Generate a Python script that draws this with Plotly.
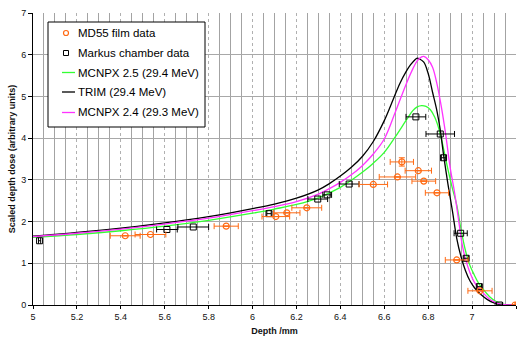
import plotly.graph_objects as go

# ---------------- data ----------------
x_trim = [5.0, 5.1, 5.2, 5.3, 5.4, 5.5, 5.6, 5.7, 5.8, 5.9, 6.0, 6.1, 6.2, 6.3, 6.35, 6.4, 6.45,
          6.5, 6.55, 6.6, 6.64, 6.67, 6.7, 6.72, 6.74, 6.75, 6.76, 6.78, 6.8, 6.82, 6.84, 6.855,
          6.87, 6.89, 6.91, 6.93, 6.95, 6.97, 6.99, 7.01, 7.04, 7.07, 7.1, 7.13, 7.2]
y_trim = [1.65, 1.69, 1.74, 1.79, 1.84, 1.90, 1.97, 2.04, 2.12, 2.21, 2.31, 2.42, 2.56, 2.76, 2.91,
          3.09, 3.3, 3.56, 3.92, 4.42, 4.92, 5.3, 5.6, 5.76, 5.88, 5.92, 5.9, 5.82, 5.55, 5.1, 4.65,
          4.2, 3.6, 2.9, 2.27, 1.6, 1.15, 0.82, 0.58, 0.42, 0.25, 0.13, 0.05, 0.01, 0.0]

x_m24 = [5.0, 5.2, 5.4, 5.6, 5.8, 6.0, 6.1, 6.2, 6.3, 6.35, 6.4, 6.45, 6.5, 6.55, 6.6, 6.65, 6.7,
         6.73, 6.75, 6.77, 6.78, 6.8, 6.82, 6.84, 6.86, 6.88, 6.9, 6.92, 6.94, 6.955, 6.97, 6.99,
         7.01, 7.05, 7.08, 7.1, 7.13, 7.2]
y_m24 = [1.64, 1.72, 1.82, 1.94, 2.08, 2.26, 2.36, 2.48, 2.66, 2.79, 2.94, 3.12, 3.34, 3.62, 3.98,
         4.62, 5.3, 5.66, 5.85, 5.95, 5.96, 5.88, 5.7, 5.3, 4.75, 4.08, 3.3, 2.7, 1.98, 1.45, 1.1,
         0.78, 0.55, 0.29, 0.14, 0.08, 0.02, 0.0]

x_m25 = [5.0, 5.2, 5.4, 5.6, 5.8, 6.0, 6.1, 6.2, 6.3, 6.4, 6.45, 6.5, 6.55, 6.6, 6.65, 6.7, 6.73,
         6.75, 6.77, 6.79, 6.81, 6.83, 6.85, 6.87, 6.89, 6.91, 6.93, 6.95, 6.97, 6.99, 7.01, 7.03,
         7.05, 7.08, 7.11, 7.14, 7.2]
y_m25 = [1.62, 1.69, 1.78, 1.89, 2.03, 2.2, 2.3, 2.41, 2.57, 2.82, 2.99, 3.18, 3.4, 3.66, 4.03, 4.43,
         4.66, 4.75, 4.78, 4.76, 4.68, 4.5, 4.2, 3.75, 3.25, 2.8, 2.4, 1.8, 1.3, 0.95, 0.72, 0.52,
         0.38, 0.2, 0.08, 0.02, 0.0]

x_markus = [5.03, 5.61, 5.73, 6.075, 6.297, 6.34, 6.44, 6.744, 6.855, 6.87, 6.948, 6.973, 7.033, 7.124]
y_markus = [1.54, 1.81, 1.87, 2.19, 2.54, 2.64, 2.90, 4.51, 4.10, 3.53, 1.72, 1.12, 0.44, 0.0]
ex_markus = [0.005, 0.047, 0.07, 0.01, 0.045, 0.02, 0.045, 0.045, 0.065, 0.01, 0.03, 0.01, 0.01, 0.015]

x_film = [5.42, 5.535, 5.88, 6.106, 6.156, 6.247, 6.55, 6.66, 6.68, 6.755, 6.78, 6.84, 6.93, 7.036, 7.196]
y_film = [1.66, 1.69, 1.89, 2.12, 2.21, 2.33, 2.89, 3.07, 3.43, 3.22, 2.97, 2.69, 1.08, 0.34, 0.0]
ex_film = [0.068, 0.07, 0.055, 0.063, 0.06, 0.068, 0.065, 0.083, 0.053, 0.06, 0.054, 0.053, 0.052, 0.055, 0.0]
ey_film = [0, 0, 0, 0, 0, 0, 0, 0, 0.1, 0, 0, 0, 0, 0, 0]

legend_labels = ["MD55 film data", "Markus chamber data", "MCNPX 2.5 (29.4 MeV)",
                 "TRIM (29.4 MeV)", "MCNPX 2.4 (29.3 MeV)"]

ORANGE = "#FF6A13"
GREEN = "#33FF33"
MAGENTA = "#FF33FF"
FONT = "Liberation Sans, Arial, sans-serif"

fig = go.Figure()
fig.add_trace(go.Scatter(x=x_m25, y=y_m25, mode="lines", line=dict(color=GREEN, width=1.3),
                         line_shape="spline", showlegend=False))
fig.add_trace(go.Scatter(x=x_trim, y=y_trim, mode="lines", line=dict(color="black", width=1.3),
                         line_shape="spline", showlegend=False))
fig.add_trace(go.Scatter(x=x_m24, y=y_m24, mode="lines", line=dict(color=MAGENTA, width=1.3),
                         line_shape="spline", showlegend=False))
fig.add_trace(go.Scatter(x=x_markus, y=y_markus, mode="markers",
                         marker=dict(symbol="square-open", size=6, color="black", line=dict(width=1)),
                         error_x=dict(type="data", array=ex_markus, color="black", thickness=1, width=3),
                         showlegend=False))
fig.add_trace(go.Scatter(x=x_film, y=y_film, mode="markers",
                         marker=dict(symbol="circle-open", size=6, color=ORANGE, line=dict(width=1.2)),
                         error_x=dict(type="data", array=ex_film, color=ORANGE, thickness=1, width=3),
                         error_y=dict(type="data", array=ey_film, color=ORANGE, thickness=1, width=3),
                         showlegend=False))

# ---------------- manual legend ----------------
L, R, T, B = 33, 6, 13, 37
W, H = 522 - L - R, 342 - T - B


def px(xp):
    return (xp - L) / W


def py(yp):
    return (342 - B - yp) / H


shapes = [dict(type="rect", xref="paper", yref="paper", x0=px(48), x1=px(205), y0=py(127), y1=py(22),
               line=dict(color="black", width=1), fillcolor="white", layer="above")]
annotations = []
ys = [33, 53, 72.5, 92, 112.5]
cols = [ORANGE, "black", GREEN, "black", MAGENTA]
for i, (lab, yy) in enumerate(zip(legend_labels, ys)):
    if i == 0:
        shapes.append(dict(type="circle", xref="paper", yref="paper", xsizemode="pixel", ysizemode="pixel",
                           xanchor=px(66), yanchor=py(yy), x0=-2.5, x1=2.5, y0=-2.5, y1=2.5,
                           line=dict(color=ORANGE, width=1.2), layer="above"))
    elif i == 1:
        shapes.append(dict(type="rect", xref="paper", yref="paper", xsizemode="pixel", ysizemode="pixel",
                           xanchor=px(66), yanchor=py(yy), x0=-2.5, x1=2.5, y0=-2.5, y1=2.5,
                           line=dict(color="black", width=1), layer="above"))
    else:
        shapes.append(dict(type="line", xref="paper", yref="paper", x0=px(62), x1=px(75), y0=py(yy), y1=py(yy),
                           line=dict(color=cols[i], width=1.3), layer="above"))
    annotations.append(dict(text=lab, xref="paper", yref="paper", x=px(76), y=py(yy), xanchor="left",
                            yanchor="middle", showarrow=False, font=dict(size=11.5, color="black", family=FONT)))

fig.update_layout(
    width=522, height=342,
    margin=dict(l=L, r=R, t=T, b=B),
    paper_bgcolor="white", plot_bgcolor="white",
    font=dict(family=FONT, size=9, color="#111"),
    shapes=shapes, annotations=annotations,
    showlegend=False,
)
fig.update_xaxes(range=[5, 7.2], tick0=5, dtick=0.2, showgrid=True, gridcolor="#b0b0b0", griddash="dot",
                 gridwidth=1, showline=True, linecolor="black", linewidth=1, ticks="outside", ticklen=3,
                 tickcolor="black", zeroline=False,
                 minor=dict(dtick=0.05, showgrid=True, gridcolor="#a3a3a3", gridwidth=1, griddash="solid"),
                 title=dict(text="<b>Depth /mm</b>", font=dict(size=9), standoff=6),
                 tickfont=dict(size=9))
fig.update_yaxes(range=[0, 7], dtick=1, showgrid=True, gridcolor="#a8a8a8", gridwidth=1.2,
                 showline=True, linecolor="black", linewidth=1, ticks="outside", ticklen=4,
                 tickcolor="black", zeroline=False,
                 title=dict(text="<b>Scaled depth dose (arbitrary units)</b>", font=dict(size=9), standoff=4),
                 tickfont=dict(size=9))

fig.write_html("out.html")
